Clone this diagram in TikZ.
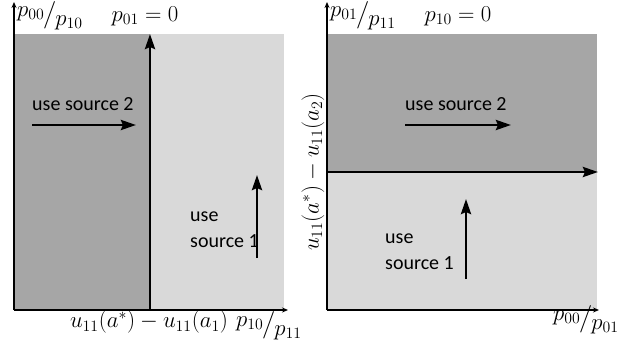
\documentclass[tikz,border=0pt]{standalone}
\usepackage{amsmath}
\usepackage{graphicx}
\usepackage{fontspec}
\setmainfont{Carlito}
\usepackage{xcolor}
\usetikzlibrary{arrows.meta, positioning}

\definecolor{darkregion}{RGB}{166,166,166}
\definecolor{lightregion}{RGB}{217,217,217}
\newcommand{\slfrac}[2]{\raisebox{4pt}{$#1$}\hspace{-1pt}\smash{$\big/$}\hspace{-1pt}\raisebox{-4pt}{$#2$}}
\newcommand{\mlbl}[1]{\scalebox{1.1}{#1}}

\begin{document}
\begin{tikzpicture}[x=1pt, y=-1pt,
		axis/.style={line width=1.2pt, -{Stealth[length=6pt,width=5pt]}},
		bigarrow/.style={line width=2.8pt, -{Stealth[length=15pt,width=10pt,inset=2pt]}},
		lbl/.style={font=\fontsize{20.74}{25}\selectfont, inner sep=0pt},
		region/.style={align=left, font=\fontsize{20}{26}\selectfont, inner sep=0pt}]
		\useasboundingbox (0,0) rectangle (618,353);
		
		% Left panel: regions
		\fill[darkregion] (14,34) rectangle (150,310);
		\fill[lightregion] (150,34) rectangle (284,310);
		
		% Left panel: axes
		\coordinate (Lo) at (14,310);
		\coordinate (Ly) at (14,2);
		\coordinate (Lx) at (288,310);
		\draw[axis] (Lo) -- (Ly);
		\draw[axis] (Lo) -- (Lx);
		
		% Left panel: threshold
		\coordinate (Lbot) at (150,310);
		\coordinate (Ltop) at (150,34);
		\draw[bigarrow] (Lbot) -- (Ltop);
		
		\node[lbl, anchor=west] (Lylab) at (17,18) {\mlbl{\slfrac{p_{00}}{p_{10}}}};
		\node[lbl] (Lcond) at (145,16) {\mlbl{$p_{01} = 0$}};
		\node[lbl] (Lthr) at (149,322) {\mlbl{$u_{11}(a^*) - u_{11}(a_1)$}};
		\node[lbl, anchor=west] (Lxlab) at (236,328) {\mlbl{\slfrac{p_{10}}{p_{11}}}};
		
		% Left panel: sources
		\node[region, anchor=west] (Ls2) at (32,104) {use source 2};
		\coordinate (Ls2a) at (32,125);
		\coordinate (Ls2b) at (136,125);
		\draw[bigarrow] (Ls2a) -- (Ls2b);
		\node[region, anchor=north west] (Ls1) at (190,212) {use\\source 1};
		\coordinate (Ls1a) at (257,258);
		\coordinate (Ls1b) at (257,175);
		\draw[bigarrow] (Ls1a) -- (Ls1b);
		
		% Right panel: regions
		\fill[darkregion] (327,34) rectangle (597,172);
		\fill[lightregion] (327,172) rectangle (597,310);
		
		% Right panel: axes
		\coordinate (Ro) at (327,310);
		\coordinate (Ry) at (327,2);
		\coordinate (Rx) at (599,310);
		\draw[axis] (Ro) -- (Ry);
		\draw[axis] (Ro) -- (Rx);
		
		% Right panel: threshold
		\coordinate (Rleft) at (327,172);
		\coordinate (Rright) at (598,172);
		\draw[bigarrow] (Rleft) -- (Rright);
		
		\node[lbl, anchor=west] (Rylab) at (330,18) {\mlbl{\slfrac{p_{01}}{p_{11}}}};
		\node[lbl] (Rcond) at (458,16) {\mlbl{$p_{10} = 0$}};
		\node[lbl, rotate=90] (Rthr) at (313,172) {\mlbl{$u_{11}(a^*) - u_{11}(a_2)$}};
		\node[lbl, anchor=west] (Rxlab) at (553,322) {\mlbl{\slfrac{p_{00}}{p_{01}}}};
		
		% Right panel: sources
		\node[region, anchor=west] (Rs2) at (405,104) {use source 2};
		\coordinate (Rs2a) at (405,125);
		\coordinate (Rs2b) at (511,125);
		\draw[bigarrow] (Rs2a) -- (Rs2b);
		\node[region, anchor=north west] (Rs1) at (385,234) {use\\source 1};
		\coordinate (Rs1a) at (466,279);
		\coordinate (Rs1b) at (466,199);
		\draw[bigarrow] (Rs1a) -- (Rs1b);
\end{tikzpicture}
\end{document}
